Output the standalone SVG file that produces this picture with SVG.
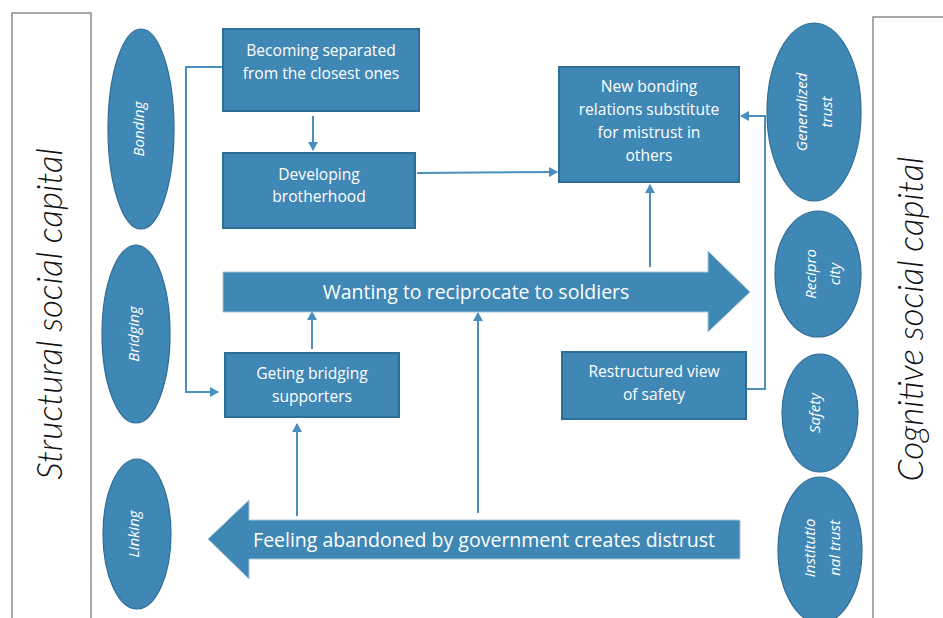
<svg xmlns="http://www.w3.org/2000/svg" width="943" height="618" viewBox="0 0 943 618">
<defs>
<style>
.frame{fill:#fff;stroke:#8c8c8c;stroke-width:1.5}
.ell{fill:#3f87b5;stroke:#2f6c96;stroke-width:1.2}
.box{fill:#3f87b5;stroke:#2f6c96;stroke-width:2}
.big{fill:#3f87b5;stroke:#a9c7dc;stroke-width:1}
.bt{font-family:"Open Sans",Lato,"Liberation Sans",sans-serif;font-size:15.6px;fill:#fff;text-anchor:middle}
.at{font-family:"Open Sans",Lato,"Liberation Sans",sans-serif;font-size:19.5px;fill:#fff;text-anchor:middle}
.et{font-family:"Open Sans",Lato,"Liberation Sans",sans-serif;font-size:15px;font-style:italic;fill:#fff;text-anchor:middle}
.side{font-family:Lato,"Open Sans","Liberation Sans",sans-serif;font-size:35px;font-style:italic;font-weight:300;fill:#111;text-anchor:middle}
.con{fill:none;stroke:#4a8fbf;stroke-width:2}
</style>
<marker id="ah" markerWidth="10" markerHeight="10" refX="8" refY="5" orient="auto" markerUnits="userSpaceOnUse">
<path d="M0,0 L9,5 L0,10 Z" fill="#4a8fbf"/>
</marker>
</defs>
<rect width="943" height="618" fill="#fff"/>

<g id="structural-frame">
<rect class="frame" x="12" y="13" width="79" height="620"/>
<text class="side" transform="translate(62,314) rotate(-90)">Structural social capital</text>
</g>
<g id="cognitive-frame">
<rect class="frame" x="873" y="17" width="80" height="620"/>
<text class="side" transform="translate(923,319) rotate(-90)">Cognitive social capital</text>
</g>

<g id="bonding">
<ellipse class="ell" cx="141" cy="129" rx="33" ry="100"/>
<text class="et" transform="translate(144,129) rotate(-90)">Bonding</text>
</g>
<g id="bridging">
<ellipse class="ell" cx="136" cy="334" rx="34" ry="89"/>
<text class="et" transform="translate(139,334) rotate(-90)">Bridging</text>
</g>
<g id="linking">
<ellipse class="ell" cx="137" cy="534" rx="34" ry="75"/>
<text class="et" transform="translate(139,534) rotate(-90)">Linking</text>
</g>
<g id="generalized-trust">
<ellipse class="ell" cx="814" cy="112" rx="47" ry="89"/>
<text class="et" transform="translate(814,112) rotate(-90)"><tspan x="0" y="-7">Generalized</tspan><tspan x="0" y="18">trust</tspan></text>
</g>
<g id="reciprocity">
<ellipse class="ell" cx="818" cy="274" rx="43" ry="63"/>
<text class="et" transform="translate(818,274) rotate(-90)"><tspan x="0" y="-2">Recipro</tspan><tspan x="0" y="22">city</tspan></text>
</g>
<g id="safety">
<ellipse class="ell" cx="820" cy="413" rx="38" ry="59"/>
<text class="et" transform="translate(820,413) rotate(-90)"><tspan x="0" y="0">Safety</tspan></text>
</g>
<g id="institutional-trust">
<ellipse class="ell" cx="820" cy="550" rx="42" ry="73"/>
<text class="et" transform="translate(820,548) rotate(-90)"><tspan x="0" y="-5">Institutio</tspan><tspan x="0" y="20">nal trust</tspan></text>
</g>

<g id="connectors">
<path class="con" d="M223,67 H186 V392 H218" marker-end="url(#ah)"/>
<path class="con" d="M313,116 V150" marker-end="url(#ah)"/>
<path class="con" d="M417,173 L557,172" marker-end="url(#ah)"/>
<path class="con" d="M650,267 V185" marker-end="url(#ah)"/>
<path class="con" d="M312,349 V312" marker-end="url(#ah)"/>
<path class="con" d="M297,516 V424" marker-end="url(#ah)"/>
<path class="con" d="M478,513 V313" marker-end="url(#ah)"/>
<path class="con" d="M746,389 H765 V116 H741" marker-end="url(#ah)"/>
</g>

<g id="becoming-separated">
<rect class="box" x="223" y="29" width="196" height="82"/>
<text class="bt" x="321" y="56">Becoming separated</text>
<text class="bt" x="321" y="79">from the closest ones</text>
</g>
<g id="developing-brotherhood">
<rect class="box" x="223" y="153" width="192" height="75"/>
<text class="bt" x="319" y="180">Developing</text>
<text class="bt" x="319" y="202">brotherhood</text>
</g>
<g id="new-bonding">
<rect class="box" x="559" y="67" width="180" height="115"/>
<text class="bt" x="649" y="92">New bonding</text>
<text class="bt" x="649" y="115">relations substitute</text>
<text class="bt" x="649" y="138">for mistrust in</text>
<text class="bt" x="649" y="161">others</text>
</g>
<g id="wanting-reciprocate">
<path class="big" d="M223,272 H708 V251 L750,292 L708,332 V312 H223 Z"/>
<text class="at" x="476" y="299">Wanting to reciprocate to soldiers</text>
</g>
<g id="geting-bridging">
<rect class="box" x="225" y="353" width="174" height="64"/>
<text class="bt" x="312" y="379">Geting bridging</text>
<text class="bt" x="312" y="402">supporters</text>
</g>
<g id="restructured-safety">
<rect class="box" x="562" y="352" width="184" height="67"/>
<text class="bt" x="654" y="377">Restructured view</text>
<text class="bt" x="654" y="400">of safety</text>
</g>
<g id="feeling-abandoned">
<path class="big" d="M740,520 H249 V500 L208,539 L249,579 V559 H740 Z"/>
<text class="at" x="484" y="547">Feeling abandoned by government creates distrust</text>
</g>
</svg>
